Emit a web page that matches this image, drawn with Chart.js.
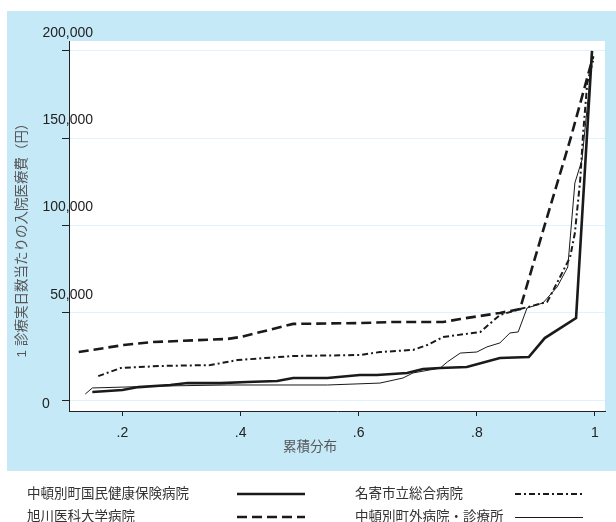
<!DOCTYPE html>
<html>
<head>
<meta charset="utf-8">
<script src="https://cdn.jsdelivr.net/npm/chart.js@4"></script>
<style>
  body { margin: 0; background: #fff; }
</style>
</head>
<body>
<canvas id="myChart" width="616" height="522"></canvas>
<script>
// series names (legend)
const names = [
    '中頓別町国民健康保険病院',
    '旭川医科大学病院',
    '名寄市立総合病院',
    '中頓別町外病院・診療所'
];

// cumulative distribution (x) / cost per day in yen (y)
const kokuhoX = [0.149, 0.200, 0.227, 0.281, 0.310, 0.366, 0.411, 0.462, 0.489, 0.547, 0.602, 0.631, 0.682, 0.709, 0.738, 0.783, 0.839, 0.888, 0.915, 0.968, 0.995];
const kokuhoY = [4600, 5700, 7400, 8600, 9700, 9700, 10300, 10900, 12600, 12600, 14300, 14300, 15500, 17800, 18300, 18900, 24100, 24600, 35500, 47000, 200000];

const asahikawaX = [0.126, 0.202, 0.252, 0.378, 0.400, 0.489, 0.603, 0.658, 0.743, 0.772, 0.839, 0.873, 0.915, 0.958, 0.997];
const asahikawaY = [27500, 31500, 33200, 35000, 36100, 43600, 44100, 44700, 44700, 46400, 49900, 52100, 100300, 149000, 197000];

const nayoroX = [0.159, 0.197, 0.264, 0.349, 0.395, 0.489, 0.603, 0.636, 0.692, 0.716, 0.743, 0.806, 0.839, 0.873, 0.919, 0.927, 0.958, 0.966, 0.975, 0.980, 0.987, 0.998];
const nayoroY = [13700, 18300, 19500, 20000, 22900, 25200, 25800, 27500, 28700, 31500, 36100, 39000, 48700, 52100, 56200, 61300, 81900, 95700, 126000, 153000, 181700, 196000];

const outsideX = [0.137, 0.149, 0.202, 0.264, 0.378, 0.547, 0.636, 0.675, 0.692, 0.738, 0.750, 0.772, 0.800, 0.817, 0.839, 0.856, 0.870, 0.885, 0.912, 0.936, 0.954, 0.966, 0.978, 0.996];
const outsideY = [3400, 6900, 7400, 8000, 8600, 8600, 9700, 12600, 15500, 18300, 21800, 26900, 27500, 30400, 32700, 38400, 39000, 52700, 55600, 64800, 76200, 124400, 137500, 199000];

// tick labels
const xTicks = [0.2, 0.4, 0.6, 0.8, 1];
const xTickLabels = ['.2', '.4', '.6', '.8', '1'];
const yTicks = [0, 50000, 100000, 150000, 200000];
const yTickLabels = ['0', '50,000', '100,000', '150,000', '200,000'];

const xTitle = '累積分布';
const yTitle = '1 診療実日数当たりの入院医療費（円）';

const FONT = '"Liberation Sans", "Noto Sans CJK JP", sans-serif';
const PANEL = 'rgb(198,233,248)';
const INK = '#222';

function pts(xs, ys) {
    const out = [];
    for (let i = 0; i < xs.length; i++) {
        out.push({ x: xs[i], y: ys[i] });
    }
    return out;
}

// blue panel + white plot area
const background = {
    id: 'background',
    beforeDraw(chart) {
        const ctx = chart.ctx;
        const a = chart.chartArea;
        ctx.save();
        ctx.fillStyle = '#fff';
        ctx.fillRect(0, 0, chart.width, chart.height);
        ctx.fillStyle = PANEL;
        ctx.fillRect(7, 11, chart.width - 7, 460);
        ctx.fillStyle = '#fff';
        ctx.fillRect(a.left, a.top, a.right - a.left, a.bottom - a.top);
        ctx.restore();
    }
};

// y tick labels sit above the ticks, titles and the legend below
const extras = {
    id: 'extras',
    afterDraw(chart) {
        const ctx = chart.ctx;
        const y = chart.scales.y;
        ctx.save();
        ctx.fillStyle = INK;
        ctx.font = '14px ' + FONT;
        ctx.textBaseline = 'middle';
        for (let i = 0; i < yTicks.length; i++) {
            const py = y.getPixelForValue(yTicks[i]);
            if (yTicks[i] === 0) {
                ctx.textAlign = 'left';
                ctx.fillText(yTickLabels[i], 42, py + 4);
            } else {
                ctx.textAlign = 'right';
                ctx.fillText(yTickLabels[i], 93, py - 18);
            }
        }

        ctx.fillStyle = '#555';
        ctx.font = '13.5px ' + FONT;
        ctx.textAlign = 'center';
        ctx.fillText(xTitle, 310, 447);

        ctx.save();
        ctx.translate(22, 237);
        ctx.rotate(-Math.PI / 2);
        ctx.font = '13.5px ' + FONT;
        ctx.fillText(yTitle, 0, 0);
        ctx.restore();

        // legend: two columns, text then a line sample
        const cols = [{ text: 27, x0: 237, x1: 305 }, { text: 355, x0: 515, x1: 583 }];
        const rows = [494, 517];
        ctx.font = '13.5px ' + FONT;
        ctx.textAlign = 'left';
        chart.data.datasets.forEach((ds, i) => {
            const c = cols[Math.floor(i / 2)];
            const r = rows[i % 2];
            const ly = ds.borderWidth < 1.5 ? r + 0.5 : r;
            ctx.fillStyle = '#333';
            ctx.fillText(ds.label, c.text, r);
            ctx.beginPath();
            ctx.strokeStyle = ds.borderColor;
            ctx.lineWidth = ds.borderWidth;
            ctx.setLineDash(ds.borderDash || []);
            ctx.moveTo(c.x0, ly);
            ctx.lineTo(c.x1, ly);
            ctx.stroke();
        });
        ctx.restore();
    }
};

const ctx = document.getElementById('myChart').getContext('2d');
new Chart(ctx, {
    type: 'scatter',
    data: {
        datasets: [
            {
                label: names[0],
                data: pts(kokuhoX, kokuhoY),
                showLine: true,
                borderColor: '#1a1a1a',
                borderWidth: 2.6,
                pointRadius: 0
            },
            {
                label: names[1],
                data: pts(asahikawaX, asahikawaY),
                showLine: true,
                borderColor: '#1a1a1a',
                borderWidth: 2.6,
                borderDash: [10, 5],
                pointRadius: 0
            },
            {
                label: names[2],
                data: pts(nayoroX, nayoroY),
                showLine: true,
                borderColor: '#1a1a1a',
                borderWidth: 2,
                borderDash: [6, 3, 2, 3],
                pointRadius: 0
            },
            {
                label: names[3],
                data: pts(outsideX, outsideY),
                showLine: true,
                borderColor: '#1a1a1a',
                borderWidth: 1,
                pointRadius: 0
            }
        ]
    },
    options: {
        responsive: false,
        animation: false,
        layout: { padding: { left: 0, right: 11, top: 41, bottom: 0 } },
        plugins: {
            legend: { display: false },
            tooltip: { enabled: false }
        },
        scales: {
            x: {
                type: 'linear',
                min: 0.1095,
                max: 1.017,
                afterBuildTicks: (scale) => { scale.ticks = xTicks.map(v => ({ value: v })); },
                afterFit: (scale) => { scale.height = 111; },
                border: { color: INK, width: 1 },
                grid: { drawOnChartArea: false, drawTicks: true, tickLength: 5, color: INK },
                ticks: {
                    padding: 9,
                    color: INK,
                    font: { family: FONT, size: 14 },
                    callback: (v) => xTickLabels[xTicks.indexOf(v)]
                }
            },
            y: {
                type: 'linear',
                min: -6300,
                max: 205700,
                afterBuildTicks: (scale) => { scale.ticks = yTicks.map(v => ({ value: v })); },
                afterFit: (scale) => { scale.width = 69; },
                border: { color: INK, width: 1 },
                grid: { color: 'rgb(224,242,251)', tickColor: INK, tickLength: 7, lineWidth: 1 },
                ticks: { display: false }
            }
        }
    },
    plugins: [background, extras]
});
</script>
</body>
</html>
